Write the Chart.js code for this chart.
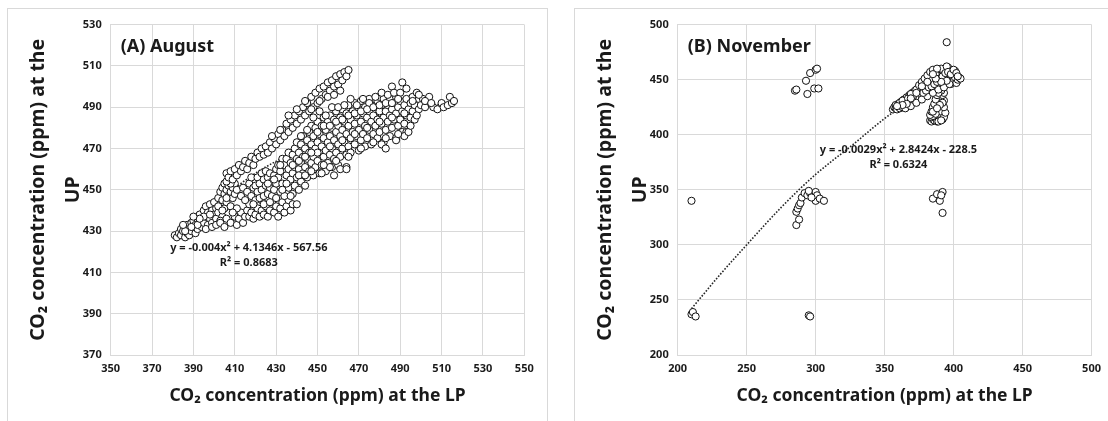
<!DOCTYPE html>
<html>
<head>
<meta charset="utf-8">
<script src="https://cdn.jsdelivr.net/npm/chart.js@4.4.1/dist/chart.umd.min.js"></script>
<style>
	body { margin: 0; background: #fff; width: 1108px; height: 421px; overflow: hidden; position: relative; }
	.frame { position: absolute; top: 8px; height: 430px; border: 1px solid #d9d9d9; box-sizing: border-box; }
	#frameA { left: 7px; width: 541px; }
	#frameB { left: 574px; width: 560px; }
	canvas { position: absolute; top: 9px; }
	#chartA { left: 8px; }
	#chartB { left: 575px; }
</style>
</head>
<body>
<div class="frame" id="frameA"></div>
<div class="frame" id="frameB"></div>
<canvas id="chartA" width="538" height="412"></canvas>
<canvas id="chartB" width="533" height="412"></canvas>
<script>
/*********************** DATA ******************************/
// тики осей
const augustTicksX = [350, 370, 390, 410, 430, 450, 470, 490, 510, 530, 550];
const augustTicksY = [370, 390, 410, 430, 450, 470, 490, 510, 530];
const novemberTicksX = [200, 250, 300, 350, 400, 450, 500];
const novemberTicksY = [200, 250, 300, 350, 400, 450, 500];

// август: [LP, UP]
const augustWedge = [
	[381,428],[382,427],[383,429],[384,428],[384,431],[385,430],[386,427],[386,432],[387,429],[387,433],
	[388,431],[388,428],[389,434],[389,430],[390,432],[390,435],[391,429],[391,433],[392,436],[392,431],
	[393,434],[393,438],[394,432],[394,436],[395,440],[395,434],[396,437],[396,442],[397,433],[397,439],
	[398,436],[398,443],[399,440],[399,434],[400,438],[400,444],[401,441],[401,436],[402,446],[402,439],
	[403,443],[403,449],[404,437],[404,445],[404,451],[405,448],[405,441],[405,453],[406,450],[406,444],
	[407,452],[407,447],[407,454],[408,449],[408,442],[409,451],[409,446],[410,453],[410,448],[411,450],
	[396,431],[399,432],[401,433],[403,435],[395,437],[392,433],[389,432],[386,430],[385,433],[402,442],
	[406,446],[408,453],[404,440],[398,438],[393,436],[390,437]
];
const augustLowerTail = [
	[403,434],[405,432],[406,436],[408,434],[410,437],[411,433],[412,436],[413,439],[414,434],[415,437],
	[416,440],[417,437],[418,439],[419,436],[420,438],[421,441],[422,437],[423,440],[424,438],[425,442],
	[426,437],[427,440],[428,444],[429,439],[430,442],[431,437],[432,441],[433,444],[434,439],[435,442],
	[436,445],[437,440],[438,443],[440,443],[411,441],[409,439],[417,443],[423,445]
];
const augustUpperBranch = [
	[406,454],[406,458],[407,456],[408,459],[409,455],[410,460],[411,457],[412,462],[413,459],[414,461],
	[415,464],[416,460],[417,463],[418,466],[419,462],[420,465],[421,468],[422,466],[423,470],[424,467],
	[425,471],[426,468],[427,473],[428,470],[429,475],[430,472],[431,477],[432,474],[433,479],[434,476],
	[435,482],[436,478],[437,484],[438,480],[439,486],[440,482],[441,488],[442,484],[443,490],[444,486],
	[445,492],[446,488],[447,495],[448,490],[449,497],[450,492],[451,499],[452,494],[453,500],[454,496],
	[455,502],[456,498],[457,503],[458,500],[459,505],[460,501],[461,506],[462,503],[463,507],[464,505],
	[465,508],[436,486],[440,489],[444,493],[447,489],[451,493],[455,495],[458,496],[461,498],[432,479],
	[428,476]
];
const augustMainCloud = [
	[413,447],[414,451],[415,445],[416,449],[417,453],[418,447],[419,451],[418,456],
	[420,445],[420,452],[421,449],[421,456],[422,446],[422,453],[423,450],[423,458],[424,447],[424,455],
	[425,452],[425,459],[426,448],[426,456],[427,451],[427,458],[428,454],[428,447],[429,457],[429,450],
	[430,453],[430,460],[430,446],[431,456],[431,462],[432,449],[432,459],[433,453],[433,465],[434,462],
	[434,447],[435,457],[435,465],[436,451],[436,460],[436,468],[437,455],[437,463],[438,448],[438,458],
	[438,467],[439,452],[439,461],[439,470],[440,456],[440,465],[440,473],[441,450],[441,460],[441,468],
	[442,454],[442,463],[442,472],[443,458],[443,466],[443,476],[444,452],[444,461],[444,470],[445,456],
	[445,465],[445,474],[446,459],[446,468],[446,478],[447,463],[447,472],[447,481],[448,457],[448,466],
	[448,476],[449,461],[449,470],[449,480],[450,464],[450,473],[450,483],[451,458],[451,468],[451,477],
	[452,462],[452,471],[452,481],[453,466],[453,475],[453,485],[454,459],[454,469],[454,479],[455,463],
	[455,473],[455,483],[456,467],[456,476],[456,486],[457,461],[457,470],[457,480],[458,465],[458,474],
	[458,484],[459,468],[459,478],[459,488],[460,462],[460,472],[460,481],[461,466],[461,476],[461,485],
	[462,470],[462,479],[462,489],[463,473],[463,483],[464,461],[464,467],[464,477],[464,487],[465,471],
	[465,481],[465,491],[466,468],[466,475],[466,484],[467,478],[467,488],[468,472],[468,482],[468,492],
	[469,476],[469,486],[470,469],[470,479],[470,489],[471,474],[471,483],[471,493],[472,477],[472,487],
	[473,471],[473,481],[473,490],[474,475],[474,485],[475,479],[475,488],[475,494],[476,472],[476,483],
	[476,491],[477,477],[477,486],[478,481],[478,490],[479,475],[479,484],[479,493],[480,478],[480,488],
	[480,495],[481,482],[481,491],[482,473],[482,485],[482,494],[483,479],[483,488],[484,483],[484,491],
	[485,476],[485,486],[485,494],[486,480],[486,489],[486,500],[487,484],[487,492],[488,475],[488,487],
	[488,495],[489,481],[489,490],[490,484],[490,493],[491,478],[491,488],[491,502],[492,482],[492,491],
	[493,478],[493,486],[493,494],[494,489],[495,485],[495,492],[496,488],[496,495],[497,484],[497,491],
	[498,497],[499,489],[499,494],[500,491],[501,494],[502,490],[504,495],[506,490],[508,489],[510,492],
	[511,490],[513,491],[514,495],[515,492],[516,493],
	[452,458],[456,461],[458,457],[461,460],[464,460],[481,472],[483,470],[488,474],[492,476],[494,478]
];
// промежуточные точки облака, чтобы не было сетки
const augustCloudFill = [
	[419,443],[424,443],[427,444],[433,450],[437,447],[441,457],[444,466],[447,459],[450,468],[453,462],
	[456,471],[459,464],[462,474],[465,466],[468,477],[471,470],[474,480],[477,473],[480,483],[483,475],
	[486,485],[489,477],[492,487],[495,481],[498,486],[442,476],[445,479],[448,485],[451,488],[454,486],
	[457,490],[460,490],[463,491],[466,494],[469,491],[472,494],[475,492],[478,495],[481,497],[484,496],
	[487,497],[490,497],[493,499],[496,493],[499,496],[502,493],[505,492],[426,453],[429,455],[432,462],
	[435,453],[438,462],[441,464],[444,457],[447,468],[450,478],[453,481],[456,481],[459,483],[462,484],
	[465,486],[468,487],[471,488],[474,489],[477,490],[480,491],[483,492],[486,492],[489,494]
];
// линия тренда августа
const augustTrend = [[381,428],[400,443],[420,458],[440,469],[460,479],[480,486],[500,490],[516,492]];

// ноябрь: [LP, UP]
const novemberMain = [
	[356,423],[357,425],[358,424],[358,427],[359,423],[360,426],[360,428],[361,424],[362,427],[362,430],
	[363,425],[364,428],[364,432],[365,426],[366,430],[366,434],[367,428],[368,431],[368,436],[369,429],
	[370,433],[370,438],[371,430],[372,435],[372,440],[373,432],[374,437],[374,442],[375,434],[376,439],
	[376,444],[377,435],[378,441],[378,446],[379,437],[380,443],[380,448],[381,438],[382,445],[382,451],
	[383,440],[383,456],[384,447],[384,453],[385,442],[386,449],[386,455],[387,444],[387,458],[388,451],
	[388,446],[389,454],[389,459],[390,448],[390,456],[391,444],[391,452],[392,458],[392,447],[393,455],
	[393,450],[394,460],[394,445],[395,453],[395,458],[396,448],[396,461],[397,455],[397,450],[398,458],
	[398,446],[399,452],[399,457],[400,449],[400,455],[401,452],[401,458],[402,447],[403,450],[404,452],
	[405,451],[365,424],[369,426],[373,429],[377,432],[381,435],[385,438],[389,441],[393,443],[371,436],
	[375,441],[379,446],[383,450],[387,455],[391,460],[395,462],
	[361,429],[363,431],[367,433],[369,437],[373,441],[375,445],[377,448],[379,451],[381,454],[383,457],
	[385,459],[388,460],[378,438],[380,440],[382,443],[384,444],[386,446],[388,448],[390,451],[392,453],
	[394,456],[396,457],[398,455],[400,459],[402,456],[403,453],[397,446],[395,449],[391,448],[387,451],
	[385,455],[381,448],[377,444],[373,438],[369,433],[366,428],[363,427],[359,426]
];
const novemberLeg = [
	[383,413],[384,412],[385,414],[386,413],[387,415],[388,412],[389,416],[390,414],[391,417],[392,419],
	[384,416],[386,418],[388,420],[390,422],[392,424],[389,425],[391,428],[393,431],[390,433],[392,436],
	[388,430],[387,427],[393,438],[391,440],[386,422],[385,417],
	[383,418],[384,421],[385,425],[386,428],[387,432],[388,436],[389,438],[390,418],[391,421],[392,414],
	[393,416],[394,420],[389,412],[391,413],[387,419],[385,421],[393,425],[392,429],[390,427],[388,424]
];
const novemberScattered = [
	[210,340],[210,237],[211,239],[213,235],[295,236],[296,235],
	[285,440],[286,441],[293,449],[296,456],[294,437],[299,442],[302,442],[300,459],[301,460],
	[286,318],[288,323],[286,330],[287,333],[288,336],[289,338],[290,343],[292,347],[294,345],[296,347],
	[298,346],[300,348],[300,340],[301,345],[303,342],[306,340],[297,343],[295,349],
	[385,342],[388,346],[390,340],[392,348],[391,345],[392,329],[395,484]
];
const novemberTrend = [[210,242],[230,272],[250,300],[275,334],[300,364],[325,389],[357,421],[380,436],[405,447]];

/*********************** CHARTS ******************************/
Chart.defaults.font.family = "'Noto Sans', sans-serif";
const textColor = '#1a1a1a';
const gridColor = '#d9d9d9';

const toXY = (arr) => arr.map((p) => ({ x: p[0], y: p[1] }));

// подписи внутри поля: заголовок панели и уравнение тренда
const panelText = {
	id: 'panelText',
	afterDatasetsDraw(chart, args, opts) {
		const { ctx, chartArea, scales } = chart;
		ctx.save();
		ctx.fillStyle = textColor;
		ctx.textBaseline = 'middle';
		ctx.textAlign = 'left';
		ctx.font = "bold 18px 'Noto Sans'";
		ctx.fillText(opts.title, chartArea.left + 10, chartArea.top + 22);
		ctx.font = "bold 11px 'Noto Sans'";
		ctx.textAlign = 'center';
		const x = scales.x.getPixelForValue(opts.eqX);
		const y = scales.y.getPixelForValue(opts.eqY);
		ctx.fillText(opts.equation, x, y);
		ctx.fillText(opts.r2, x, y + 15);
		ctx.restore();
	},
};

function makeChart(canvasId, s) {
	const data = {
		datasets: [
			{
				data: toXY(s.points),
				pointRadius: 3.6,
				pointBorderWidth: 1,
				pointBorderColor: '#111111',
				pointBackgroundColor: '#ffffff',
				order: 1,
			},
			{
				data: toXY(s.trend),
				showLine: true,
				borderColor: '#262626',
				borderWidth: 1.6,
				borderDash: [1.6, 1.6],
				pointRadius: 0,
				cubicInterpolationMode: 'monotone',
				order: 2,
			},
		],
	};
	const tickFont = { size: 11, weight: 'bold' };
	const chartConfig = {
		type: 'scatter',
		data: data,
		options: {
			responsive: false,
			animation: false,
			devicePixelRatio: 1,
			layout: { padding: { left: 0, top: 12.7, right: s.padRight, bottom: 0 } },
			plugins: {
				legend: { display: false },
				tooltip: { enabled: false },
				panelText: s.text,
			},
			scales: {
				x: {
					min: s.ticksX[0],
					max: s.ticksX[s.ticksX.length - 1],
					afterBuildTicks: (sc) => { sc.ticks = s.ticksX.map((v) => ({ value: v })); },
					afterFit: (sc) => { sc.height = 66; },
					grid: { color: gridColor, drawTicks: false },
					border: { color: gridColor },
					ticks: { color: textColor, font: tickFont, padding: 7, maxRotation: 0, autoSkip: false },
					title: {
						display: true,
						text: 'CO₂ concentration (ppm) at the LP',
						color: textColor,
						font: { size: 17.5, weight: 'bold' },
						padding: { top: 0, bottom: 14 },
					},
				},
				y: {
					min: s.ticksY[0],
					max: s.ticksY[s.ticksY.length - 1],
					afterBuildTicks: (sc) => { sc.ticks = s.ticksY.map((v) => ({ value: v })); },
					afterFit: (sc) => { sc.width = 102.7; },
					grid: { color: gridColor, drawTicks: false },
					border: { color: gridColor },
					ticks: { color: textColor, font: tickFont, padding: 9, autoSkip: false },
					title: {
						display: true,
						text: ['CO₂ concentration (ppm) at the', 'UP'],
						color: textColor,
						font: { size: 19.5, weight: 'bold', lineHeight: 1.8 },
						padding: { top: 12.5, bottom: 0 },
					},
				},
			},
		},
		plugins: [panelText],
	};
	return new Chart(document.getElementById(canvasId), chartConfig);
}

makeChart('chartA', {
	points: [...augustWedge, ...augustLowerTail, ...augustUpperBranch, ...augustMainCloud, ...augustCloudFill],
	trend: augustTrend,
	ticksX: augustTicksX,
	ticksY: augustTicksY,
	padRight: 21.7,
	text: {
		title: '(A) August',
		equation: 'y = -0.004x² + 4.1346x - 567.56',
		r2: 'R² = 0.8683',
		eqX: 416.8,
		eqY: 421.8,
	},
});

makeChart('chartB', {
	points: [...novemberScattered, ...novemberLeg, ...novemberMain],
	trend: novemberTrend,
	ticksX: novemberTicksX,
	ticksY: novemberTicksY,
	padRight: 16.3,
	text: {
		title: '(B) November',
		equation: 'y = -0.0029x² + 2.8424x - 228.5',
		r2: 'R² = 0.6324',
		eqX: 360,
		eqY: 386.6,
	},
});
</script>
</body>
</html>
